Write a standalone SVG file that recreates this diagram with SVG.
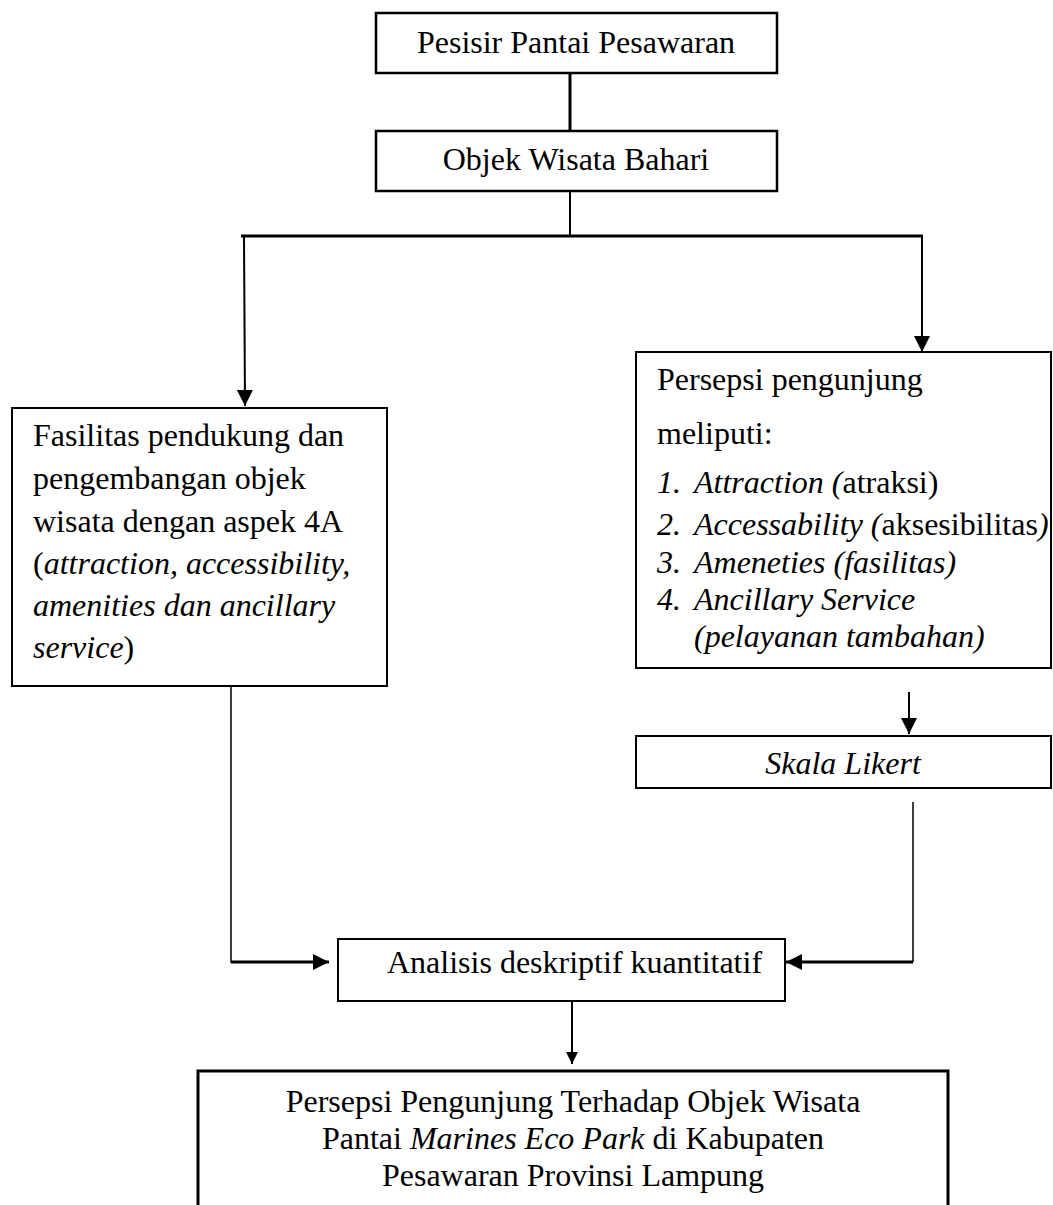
<svg xmlns="http://www.w3.org/2000/svg" width="1053" height="1205" viewBox="0 0 1053 1205">
<style>
  text { font-family: "Liberation Serif", "Times New Roman", serif; font-size: 32px; fill: #000; }
  .i { font-style: italic; }
  .box { fill: #fff; stroke: #000; stroke-width: 2; }
  .boxt { fill: #fff; stroke: #000; stroke-width: 2.5; }
  .ln { fill: none; stroke: #000; stroke-width: 2; }
  .lnt { fill: none; stroke: #000; stroke-width: 3; }
  .lnf { fill: none; stroke: #000; stroke-width: 1.5; }
</style>
<defs>
  <marker id="ah" markerUnits="userSpaceOnUse" markerWidth="16" markerHeight="16" refX="16" refY="8" orient="auto">
    <path d="M0,0 L16,8 L0,16 z" fill="#000"/>
  </marker>
  <marker id="ahs" markerUnits="userSpaceOnUse" markerWidth="12" markerHeight="12" refX="12" refY="6" orient="auto">
    <path d="M0,0 L12,6 L0,12 z" fill="#000"/>
  </marker>
</defs>
<rect width="1053" height="1205" fill="#fff"/>

<g id="connectors">
  <line class="lnt" x1="570" y1="73" x2="570" y2="131"/>
  <line class="ln" x1="570" y1="191" x2="570" y2="236"/>
  <line class="lnt" x1="241" y1="236" x2="923" y2="236"/>
  <line class="ln" x1="244" y1="236" x2="245" y2="406" marker-end="url(#ah)"/>
  <line class="ln" x1="922" y1="236" x2="922" y2="352" marker-end="url(#ah)"/>
  <line class="ln" x1="909" y1="692" x2="909" y2="734" marker-end="url(#ah)"/>
  <polyline class="lnf" points="231,686 231,962 245,962"/>
  <line class="lnt" x1="231" y1="962" x2="329" y2="962" marker-end="url(#ah)"/>
  <line class="lnf" x1="913" y1="802" x2="913" y2="962"/>
  <line class="lnt" x1="913" y1="962" x2="786" y2="962" marker-end="url(#ah)"/>
  <line class="ln" x1="572" y1="1001" x2="572" y2="1064" marker-end="url(#ahs)"/>
</g>

<g id="n-pesisir">
  <rect class="boxt" x="376" y="13" width="401" height="60"/>
  <text x="576" y="53" text-anchor="middle">Pesisir Pantai Pesawaran</text>
</g>

<g id="n-objek">
  <rect class="boxt" x="376" y="131" width="401" height="60"/>
  <text x="576" y="170" text-anchor="middle">Objek Wisata Bahari</text>
</g>

<g id="n-fasilitas">
  <rect class="box" x="12" y="408" width="375" height="278"/>
  <text x="33" y="446">Fasilitas pendukung dan</text>
  <text x="33" y="489">pengembangan objek</text>
  <text x="33" y="532">wisata dengan aspek 4A</text>
  <text x="33" y="574">(<tspan class="i">attraction, accessibility,</tspan></text>
  <text x="33" y="616" class="i">amenities dan ancillary</text>
  <text x="33" y="658"><tspan class="i">service</tspan>)</text>
</g>

<g id="n-persepsi">
  <rect class="box" x="636" y="352" width="415" height="316"/>
  <text x="657" y="390">Persepsi pengunjung</text>
  <text x="657" y="444">meliputi:</text>
  <text x="657" y="493" class="i">1.</text>
  <text x="694" y="493"><tspan class="i">Attraction (</tspan>atraksi)</text>
  <text x="657" y="535" class="i">2.</text>
  <text x="694" y="535"><tspan class="i">Accessability (</tspan>aksesibilitas<tspan class="i">)</tspan></text>
  <text x="657" y="573" class="i">3.</text>
  <text x="694" y="573" class="i">Ameneties (fasilitas)</text>
  <text x="657" y="610" class="i">4.</text>
  <text x="694" y="610" class="i">Ancillary Service</text>
  <text x="694" y="647" class="i">(pelayanan tambahan)</text>
</g>

<g id="n-skala">
  <rect class="box" x="636" y="736" width="415" height="52"/>
  <text x="843" y="774" text-anchor="middle" class="i">Skala Likert</text>
</g>

<g id="n-analisis">
  <rect class="box" x="338" y="939" width="447" height="62"/>
  <text x="387" y="973">Analisis deskriptif kuantitatif</text>
</g>

<g id="n-hasil">
  <polyline class="lnt" points="198,1205 198,1071 948,1071 948,1205"/>
  <text x="573" y="1112" text-anchor="middle">Persepsi Pengunjung Terhadap Objek Wisata</text>
  <text x="573" y="1149" text-anchor="middle">Pantai <tspan class="i">Marines Eco Park</tspan> di Kabupaten</text>
  <text x="573" y="1186" text-anchor="middle">Pesawaran Provinsi Lampung</text>
</g>
</svg>
